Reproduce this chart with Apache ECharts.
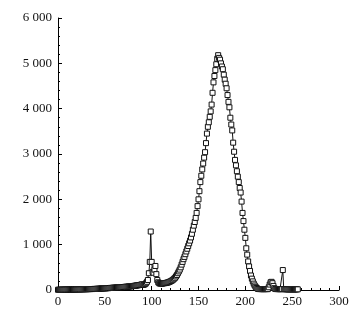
<!DOCTYPE html>
<html><head><meta charset="utf-8">
<script src="https://cdn.jsdelivr.net/npm/echarts@6/dist/echarts.min.js"></script>
<style>html,body{margin:0;padding:0;background:#fff}#c{width:358px;height:319px}</style>
</head><body><div id="c"></div>
<script>
const xValues = [];
for (let i = 0; i <= 256; i++) xValues.push(i);
const yBase0 = [5,6,5,7,6,8,7,8,9,8,10,9,10,11,10,12,11,12,13,12,14,13,14,15,14,16,15,16,17,18,17,19,18,20,21,20,22,21,23,24,23,25,26,27,28,30];
const yBase1 = [32,34,35,36,38,37,40,42,41,44,46,45,48,50,49,52,54,55,57,58,60,62,61,64,66,68,70,72,71,75,78,80,82,85,88,90,94,96,100,104,106,110,114,120,126];
const yPeak1 = [110,120,130,150,180,220,370,620,1290,620,400,380,450,530,350,220,170,150,140,140];
const yRise = [140,145,150,150,155,160,165,170,180,190,200,215,230,250,270,300,330,370,410,450,500,560,620,680,730,790,850,910,970,1030,1090,1160,1240,1330,1420,1500,1590,1700,1850,2000,2180,2380,2520,2660,2790,2920,3040,3240,3450,3600,3700,3820,3940,4090,4350,4580,4720,4850,4980,5100,5180];
const yFall = [5120,5080,5000,4930,4870,4750,4640,4550,4450,4300,4150,4030,3800,3650,3520,3250,3050,2870,2750,2620,2500,2380,2250,2150,1950,1700,1520,1330,1150,920,780,630,520,420,320,250,190,140,100,70,45,30];
const yTail = [22,20,21,19,20,18,20,19,21,20,19,60,120,170,180,150,90,40,22,20,21,19,20,18,20,19,440,20,18,17,16,17,15,16,15,14,15,16,15,14,15,14,15];
const yValues = [].concat(yBase0, yBase1, yPeak1, yRise, yFall, yTail).slice(0, xValues.length);
const xTicks = [0,50,100,150,200,250,300];
const yTicks = [0,1000,2000,3000,4000,5000,6000];

const fmt = v => String(v).replace(/\B(?=(\d{3})+(?!\d))/g, ' ');
const font = '"Liberation Serif", serif';
const chart = echarts.init(document.getElementById('c'), null, {renderer:'canvas'});
chart.setOption({
  animation:false,
  backgroundColor:'#fff',
  grid:{left:58,right:19,top:18,bottom:29,containLabel:false},
  xAxis:{type:'value',min:xTicks[0],max:xTicks[xTicks.length-1],interval:50,
    axisLine:{onZero:false,lineStyle:{color:'#000',width:1}},
    axisTick:{inside:true,length:4,lineStyle:{color:'#000'}},
    minorTick:{show:true,splitNumber:5,length:2,lineStyle:{color:'#000'}},
    splitLine:{show:false},
    axisLabel:{fontFamily:font,fontSize:13,color:'#111',margin:5,formatter:fmt}},
  yAxis:{type:'value',min:yTicks[0],max:yTicks[yTicks.length-1],interval:1000,
    axisLine:{show:true,lineStyle:{color:'#000',width:1}},
    axisTick:{show:true,inside:true,length:4,lineStyle:{color:'#000'}},
    minorTick:{show:true,splitNumber:5,length:2,lineStyle:{color:'#000'}},
    splitLine:{show:false},
    axisLabel:{fontFamily:font,fontSize:13,color:'#111',margin:6,formatter:fmt}},
  series:[{type:'line',data:xValues.map((x,i)=>[x,yValues[i]]),
    symbol:'rect',symbolSize:5,showAllSymbol:true,
    lineStyle:{color:'#111',width:1},
    itemStyle:{color:'#fff',borderColor:'#111',borderWidth:1}}]
});
</script></body></html>
